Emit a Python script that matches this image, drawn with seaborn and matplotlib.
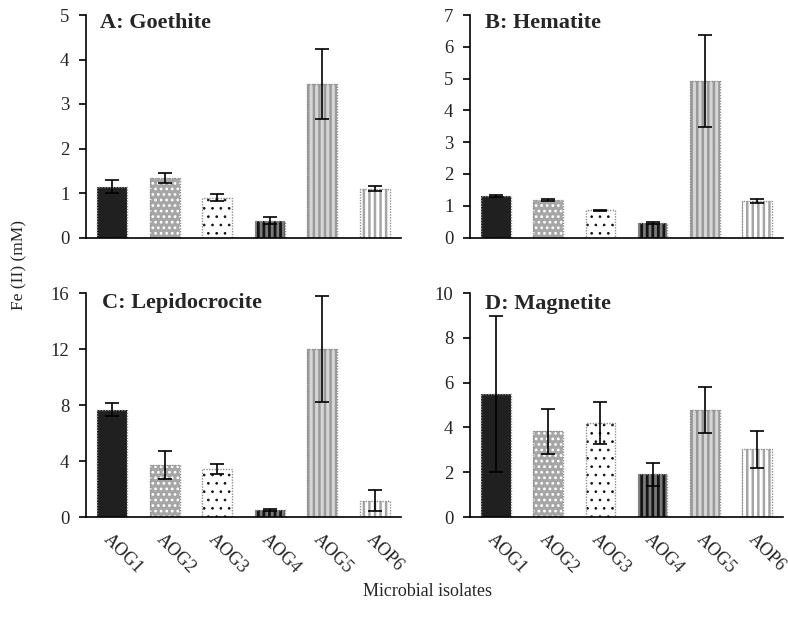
import matplotlib
matplotlib.use("Agg")
import matplotlib.pyplot as plt
import matplotlib.transforms as mtransforms
from matplotlib.patches import Rectangle
import seaborn as sns

# Fe(II) produced by each isolate on four iron oxides (mean and error)
isolates = ["AOG1", "AOG2", "AOG3", "AOG4", "AOG5", "AOP6"]

goethite_mean = [1.14, 1.33, 0.89, 0.38, 3.45, 1.10]
goethite_err = [0.15, 0.11, 0.08, 0.07, 0.78, 0.05]

hematite_mean = [1.30, 1.18, 0.85, 0.46, 4.93, 1.16]
hematite_err = [0.03, 0.03, 0.03, 0.03, 1.45, 0.06]

lepido_mean = [7.67, 3.75, 3.43, 0.50, 12.0, 1.15]
lepido_err = [0.45, 1.00, 0.35, 0.05, 3.80, 0.75]

magnetite_mean = [5.50, 3.82, 4.19, 1.91, 4.76, 3.02]
magnetite_err = [3.48, 1.00, 0.93, 0.52, 1.03, 0.84]

panel_titles = ["A: Goethite", "B: Hematite", "C: Lepidocrocite", "D: Magnetite"]
panel_ylims = [5, 7, 16, 10]
panel_yticks = [list(range(0, 6, 1)), list(range(0, 8, 1)),
                list(range(0, 17, 4)), list(range(0, 11, 2))]

# fill colour, hatch pattern, hatch colour and hatch line width per isolate
fill_colors = ["#202020", "#a6a6a6", "#ffffff", "#7a7a7a", "#d6d6d6", "#ffffff"]
hatches = ["", "...", "..", "|||", "|||", "|||"]
hatch_colors = ["#202020", "#ffffff", "#111111", "#151515", "#9a9a9a", "#a5a5a5"]
hatch_widths = [1.0, 1.2, 0.7, 2.0, 1.8, 1.8]

sns.set_theme(style="ticks")
plt.rcParams["font.family"] = ["Liberation Serif", "DejaVu Serif"]
plt.rcParams["hatch.linewidth"] = 1.4
plt.rcParams["axes.linewidth"] = 1.2

fig = plt.figure(figsize=(7.88, 6.22), dpi=100)
W, H = 788, 622
boxes = [(86, 15, 401, 237.5), (470, 15, 783, 237.5),
         (86, 293, 401, 517), (470, 293, 783, 517)]

datasets = [(goethite_mean, goethite_err), (hematite_mean, hematite_err),
            (lepido_mean, lepido_err), (magnetite_mean, magnetite_err)]

title_pos = [(0.045, 1.01), (0.048, 1.01), (0.05, 1.0), (0.048, 0.995)]

for i, ((means, errs), (x0, y0, x1, y1)) in enumerate(zip(datasets, boxes)):
    ax = fig.add_axes([x0 / W, 1 - y1 / H, (x1 - x0) / W, (y1 - y0) / H])
    sns.barplot(x=isolates, y=means, hue=isolates, palette=fill_colors,
                legend=False, errorbar=None, width=0.57, ax=ax,
                saturation=1)
    for p, hatch, hc, hw in zip(ax.patches, hatches, hatch_colors, hatch_widths):
        p.set_hatch(hatch)
        p.set_edgecolor(hc)
        p.set_linewidth(0)
        if hasattr(p, "set_hatch_linewidth"):
            p.set_hatch_linewidth(hw)
        ax.add_patch(Rectangle(p.get_xy(), p.get_width(), p.get_height(),
                               fill=False, edgecolor="#8f8f8f", lw=1.0,
                               ls=(0, (1, 1)), zorder=p.get_zorder() + 0.1))
    ax.errorbar(range(len(isolates)), means, yerr=errs, fmt="none",
                ecolor="black", elinewidth=1.2, capsize=5, capthick=1.2,
                zorder=5)
    ax.set_xlim(-0.5, 5.5)
    ax.set_ylim(0, panel_ylims[i])
    ax.set_yticks(panel_yticks[i])
    ax.tick_params(axis="y", length=5, width=1.2, direction="out",
                   labelsize=13.5, pad=7, color="black")
    sns.despine(ax=ax)
    ax.spines["left"].set_color("black")
    ax.spines["bottom"].set_color("black")
    ax.set_xlabel("")
    ax.set_ylabel("")
    if i >= 2:
        ax.tick_params(axis="x", length=0, labelsize=13, pad=14)
        offset = mtransforms.ScaledTranslation(-6 / 100, 0, fig.dpi_scale_trans)
        for lab in ax.get_xticklabels():
            lab.set_rotation(-45)
            lab.set_ha("left")
            lab.set_va("center")
            lab.set_rotation_mode("anchor")
            lab.set_transform(lab.get_transform() + offset)
    else:
        ax.set_xticks(range(len(isolates)))
        ax.set_xticklabels([])
        ax.tick_params(axis="x", length=0)
    tx, ty = title_pos[i]
    ax.text(tx, ty, panel_titles[i], transform=ax.transAxes, fontsize=16,
            fontweight="bold", ha="left", va="top")

fig.text(19 / W, 1 - 265 / H, "Fe (II) (mM)", rotation=90, ha="center",
         va="center", fontsize=12.5)
fig.text(428 / W, 1 - 592 / H, "Microbial isolates", ha="center",
         va="center", fontsize=13)

fig.savefig("out.png", dpi=100)
